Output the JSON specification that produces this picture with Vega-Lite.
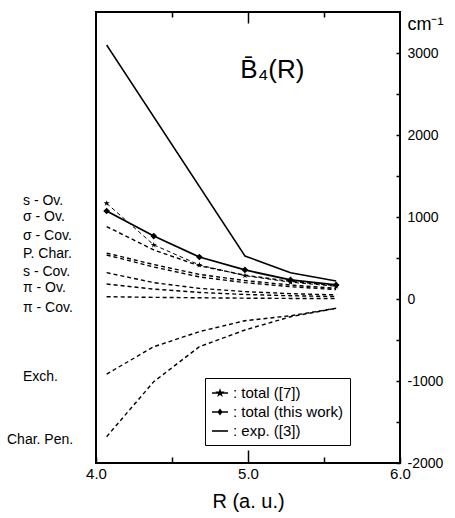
{
  "$schema": "https://vega.github.io/schema/vega-lite/v6.json",
  "autosize": {"type": "none"},
  "padding": {"left": 96, "top": 12, "right": 55, "bottom": 55},
  "width": 304,
  "height": 451,
  "background": "white",
  "config": {
    "font": "Liberation Sans",
    "view": {"stroke": "black", "strokeWidth": 2},
    "axis": {"grid": false, "domain": false, "tickColor": "black", "labelColor": "black", "titleColor": "black", "labelFont": "Liberation Sans", "titleFont": "Liberation Sans", "labelFlush": false, "labelOverlap": false}
  },
  "datasets": {
    "curves": [
      {"s": "s - Ov.", "R": 4.07, "v": 884}, {"s": "s - Ov.", "R": 4.38, "v": 598}, {"s": "s - Ov.", "R": 4.68, "v": 405}, {"s": "s - Ov.", "R": 4.98, "v": 290}, {"s": "s - Ov.", "R": 5.28, "v": 215}, {"s": "s - Ov.", "R": 5.58, "v": 165},
      {"s": "σ - Ov.", "R": 4.07, "v": 560}, {"s": "σ - Ov.", "R": 4.38, "v": 420}, {"s": "σ - Ov.", "R": 4.68, "v": 300}, {"s": "σ - Ov.", "R": 4.98, "v": 225}, {"s": "σ - Ov.", "R": 5.28, "v": 170}, {"s": "σ - Ov.", "R": 5.58, "v": 130},
      {"s": "P. Char.", "R": 4.07, "v": 537}, {"s": "P. Char.", "R": 4.38, "v": 390}, {"s": "P. Char.", "R": 4.68, "v": 270}, {"s": "P. Char.", "R": 4.98, "v": 200}, {"s": "P. Char.", "R": 5.28, "v": 150}, {"s": "P. Char.", "R": 5.58, "v": 115},
      {"s": "s - Cov.", "R": 4.07, "v": 321}, {"s": "s - Cov.", "R": 4.38, "v": 200}, {"s": "s - Cov.", "R": 4.68, "v": 130}, {"s": "s - Cov.", "R": 4.98, "v": 90}, {"s": "s - Cov.", "R": 5.28, "v": 65}, {"s": "s - Cov.", "R": 5.58, "v": 50},
      {"s": "π - Ov.", "R": 4.07, "v": 183}, {"s": "π - Ov.", "R": 4.38, "v": 120}, {"s": "π - Ov.", "R": 4.68, "v": 80}, {"s": "π - Ov.", "R": 4.98, "v": 55}, {"s": "π - Ov.", "R": 5.28, "v": 40}, {"s": "π - Ov.", "R": 5.58, "v": 30},
      {"s": "π - Cov.", "R": 4.07, "v": 28}, {"s": "π - Cov.", "R": 4.38, "v": 20}, {"s": "π - Cov.", "R": 4.68, "v": 15}, {"s": "π - Cov.", "R": 4.98, "v": 10}, {"s": "π - Cov.", "R": 5.28, "v": 7}, {"s": "π - Cov.", "R": 5.58, "v": 5},
      {"s": "Exch.", "R": 4.07, "v": -915}, {"s": "Exch.", "R": 4.38, "v": -582}, {"s": "Exch.", "R": 4.68, "v": -398}, {"s": "Exch.", "R": 4.98, "v": -265}, {"s": "Exch.", "R": 5.28, "v": -204}, {"s": "Exch.", "R": 5.58, "v": -113},
      {"s": "Char. Pen.", "R": 4.07, "v": -1679}, {"s": "Char. Pen.", "R": 4.38, "v": -1008}, {"s": "Char. Pen.", "R": 4.68, "v": -582}, {"s": "Char. Pen.", "R": 4.98, "v": -378}, {"s": "Char. Pen.", "R": 5.28, "v": -216}, {"s": "Char. Pen.", "R": 5.58, "v": -113},
      {"s": "total ([7])", "R": 4.07, "v": 1167}, {"s": "total ([7])", "R": 4.38, "v": 660}, {"s": "total ([7])", "R": 4.68, "v": 415}, {"s": "total ([7])", "R": 4.98, "v": 285}, {"s": "total ([7])", "R": 5.28, "v": 205}, {"s": "total ([7])", "R": 5.58, "v": 155},
      {"s": "total (this work)", "R": 4.07, "v": 1073}, {"s": "total (this work)", "R": 4.38, "v": 768}, {"s": "total (this work)", "R": 4.68, "v": 512}, {"s": "total (this work)", "R": 4.98, "v": 354}, {"s": "total (this work)", "R": 5.28, "v": 232}, {"s": "total (this work)", "R": 5.58, "v": 171},
      {"s": "exp. ([3])", "R": 4.07, "v": 3098}, {"s": "exp. ([3])", "R": 4.98, "v": 524}, {"s": "exp. ([3])", "R": 5.28, "v": 321}, {"s": "exp. ([3])", "R": 5.58, "v": 220}
    ],
    "labels": [
      {"label": "s - Ov.", "v": 1200},
      {"label": "σ - Ov.", "v": 995},
      {"label": "σ - Cov.", "v": 768},
      {"label": "P. Char.", "v": 549},
      {"label": "s - Cov.", "v": 333},
      {"label": "π - Ov.", "v": 138},
      {"label": "π - Cov.", "v": -110},
      {"label": "Exch.", "v": -948},
      {"label": "Char. Pen.", "v": -1720}
    ],
    "title": [{"text": "B̄₄(R)", "R": 5.16, "v": 2790}]
  },
  "resolve": {"axis": {"x": "independent"}},
  "layer": [
    {
      "data": {"name": "curves"},
      "transform": [{"filter": "indexof(['total ([7])','total (this work)','exp. ([3])'], datum.s) < 0"}],
      "mark": {"type": "line", "color": "black", "strokeWidth": 1.4, "strokeDash": [4, 3]},
      "encoding": {
        "x": {"field": "R", "type": "quantitative", "scale": {"domain": [4, 6], "nice": false},
          "axis": {"orient": "bottom", "values": [4, 4.5, 5, 5.5, 6], "labelExpr": "datum.value % 1 === 0 ? format(datum.value, '.1f') : ''", "tickSize": {"condition": {"test": "datum.value === 5", "value": -13}, "value": -6}, "tickWidth": 1.5, "labelPadding": {"condition": {"test": "datum.value === 5", "value": 16}, "value": 9}, "labelFontSize": 15, "title": "R (a. u.)", "titleFontSize": 20, "titleFontWeight": "normal", "titlePadding": 10}},
        "y": {"field": "v", "type": "quantitative", "scale": {"domain": [-2000, 3500], "nice": false},
          "axis": {"orient": "right", "values": [-2000, -1500, -1000, -500, 0, 500, 1000, 1500, 2000, 2500, 3000], "labelExpr": "datum.value % 1000 === 0 ? '' + datum.value : ''", "tickSize": -4, "tickWidth": 1.5, "labelPadding": 11, "labelFontSize": 14, "labelAlign": "left", "title": "cm⁻¹", "titleAngle": 0, "titleAlign": "left", "titleBaseline": "middle", "titleX": 7, "titleY": 12, "titleFontSize": 18, "titleFontWeight": "normal"}},
        "detail": {"field": "s"}
      }
    },
    {
      "data": {"name": "curves"},
      "transform": [{"filter": "datum.s === 'total ([7])'"}],
      "mark": {"type": "line", "color": "black", "strokeWidth": 1, "strokeDash": [4, 3]},
      "encoding": {
        "x": {"field": "R", "type": "quantitative", "axis": {"orient": "top", "values": [4.5, 5, 5.5], "labels": false, "title": null, "tickSize": {"condition": {"test": "datum.value === 5", "value": -11}, "value": -5}, "tickWidth": 1.5}},
        "y": {"field": "v", "type": "quantitative"}
      }
    },
    {
      "data": {"name": "curves"},
      "transform": [{"filter": "datum.s === 'total (this work)'"}],
      "mark": {"type": "line", "color": "black", "strokeWidth": 1.8},
      "encoding": {
        "x": {"field": "R", "type": "quantitative", "axis": null},
        "y": {"field": "v", "type": "quantitative"}
      }
    },
    {
      "data": {"name": "curves"},
      "transform": [{"filter": "datum.s === 'exp. ([3])'"}],
      "mark": {"type": "line", "color": "black", "strokeWidth": 1.5},
      "encoding": {
        "x": {"field": "R", "type": "quantitative", "axis": null},
        "y": {"field": "v", "type": "quantitative"}
      }
    },
    {
      "data": {"name": "curves"},
      "transform": [{"filter": "datum.s === 'total ([7])'"}],
      "mark": {"type": "point", "filled": true, "color": "black", "opacity": 1, "size": 40, "shape": "M0,-1L0.22,-0.31L0.95,-0.31L0.36,0.12L0.59,0.81L0,0.38L-0.59,0.81L-0.36,0.12L-0.95,-0.31L-0.22,-0.31Z"},
      "encoding": {
        "x": {"field": "R", "type": "quantitative", "axis": null},
        "y": {"field": "v", "type": "quantitative"}
      }
    },
    {
      "data": {"name": "curves"},
      "transform": [{"filter": "datum.s === 'total (this work)'"}],
      "mark": {"type": "point", "filled": true, "color": "black", "opacity": 1, "size": 45, "shape": "diamond"},
      "encoding": {
        "x": {"field": "R", "type": "quantitative", "axis": null},
        "y": {"field": "v", "type": "quantitative"}
      }
    },
    {
      "data": {"name": "curves"},
      "transform": [{"filter": "datum.s === 'total ([7])' || datum.s === 'total (this work)' || datum.s === 'exp. ([3])'"}],
      "mark": {"type": "point", "filled": false, "color": "black", "strokeWidth": 1.6, "opacity": 0, "size": 256},
      "encoding": {
        "x": {"field": "R", "type": "quantitative", "axis": null},
        "y": {"field": "v", "type": "quantitative"},
        "shape": {"field": "s", "type": "nominal",
          "scale": {"domain": ["total ([7])", "total (this work)", "exp. ([3])"], "range": ["M-1,0L1,0M0,-0.3L0.07,-0.09L0.28,-0.09L0.11,0.03L0.17,0.24L0,0.11L-0.17,0.24L-0.11,0.03L-0.28,-0.09L-0.07,-0.09Z", "M-1,0L1,0M0,-0.28L0.2,0L0,0.28L-0.2,0Z", "M-1,0L1,0"]},
          "legend": {"orient": "none", "legendX": 109, "legendY": 366, "title": null, "padding": 6, "strokeColor": "black", "fillColor": "white", "labelFontSize": 15, "labelColor": "black", "labelFont": "Liberation Sans", "symbolSize": 256, "symbolOpacity": 1, "symbolStrokeColor": "black", "symbolStrokeWidth": 1.6, "labelOffset": 4, "rowPadding": 2, "labelExpr": "': ' + datum.label"}}
      }
    },
    {
      "data": {"name": "labels"},
      "transform": [{"filter": "datum.label !== 'Char. Pen.'"}],
      "mark": {"type": "text", "align": "left", "baseline": "middle", "dx": -73, "fontSize": 14, "font": "Liberation Sans", "color": "black"},
      "encoding": {
        "x": {"datum": 4, "type": "quantitative", "axis": null},
        "y": {"field": "v", "type": "quantitative"},
        "text": {"field": "label"}
      }
    },
    {
      "data": {"name": "labels"},
      "transform": [{"filter": "datum.label === 'Char. Pen.'"}],
      "mark": {"type": "text", "align": "left", "baseline": "middle", "dx": -89, "fontSize": 14, "font": "Liberation Sans", "color": "black"},
      "encoding": {
        "x": {"datum": 4, "type": "quantitative", "axis": null},
        "y": {"field": "v", "type": "quantitative"},
        "text": {"field": "label"}
      }
    },
    {
      "data": {"name": "title"},
      "mark": {"type": "text", "align": "center", "baseline": "middle", "fontSize": 26, "font": "Liberation Sans", "color": "black"},
      "encoding": {
        "x": {"field": "R", "type": "quantitative", "axis": null},
        "y": {"field": "v", "type": "quantitative"},
        "text": {"field": "text"}
      }
    }
  ]
}
